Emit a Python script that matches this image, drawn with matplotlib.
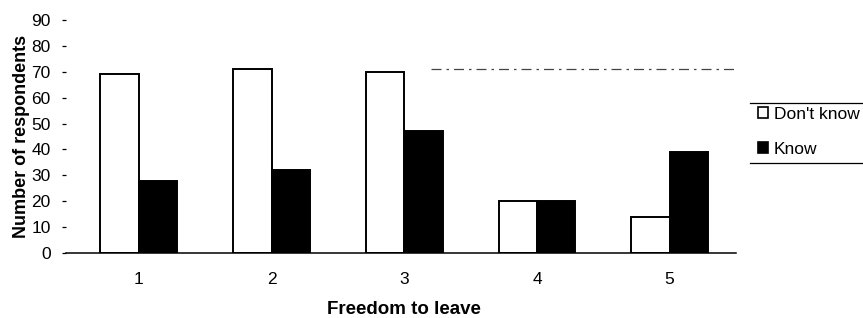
import matplotlib.pyplot as plt
import numpy as np
from matplotlib.patches import Patch
from matplotlib.lines import Line2D

plt.rcParams["font.family"] = ["Liberation Sans", "DejaVu Sans"]

# Данные
categories = ["1", "2", "3", "4", "5"]
dont_know = [69, 71, 70, 20, 14]
know = [28, 32, 47, 20, 39]
y_ticks = [0, 10, 20, 30, 40, 50, 60, 70, 80, 90]

fig = plt.figure(figsize=(8.63, 3.18), dpi=100)
ax = fig.add_axes([66 / 863, 1 - 253 / 318, 670 / 863, 233 / 318])

x = np.arange(1, len(categories) + 1)
w = 0.29
ax.bar(x - w / 2, dont_know, width=w, color="white", edgecolor="black", linewidth=1.4)
ax.bar(x + w / 2, know, width=w, color="black", edgecolor="black", linewidth=1.4)

# слабая пунктирная линия (след скана) на уровне ~71
ax.plot([3.2, 5.5], [71, 71], color="#444444", linestyle=(0, (8, 4, 2, 4)), linewidth=0.9)

ax.set_xlim(0.45, 5.5)
ax.set_ylim(0, 90)
ax.set_xticks(x)
ax.set_xticklabels(categories)
ax.set_yticks(y_ticks)
ax.tick_params(axis="x", length=0, labelsize=12.5, pad=14)
ax.tick_params(axis="y", length=3, direction="out", labelsize=12.5, pad=8, width=0.9)

for side in ["top", "right", "left"]:
    ax.spines[side].set_visible(False)
ax.spines["bottom"].set_linewidth(1.1)

ax.set_ylabel("Number of respondents", fontsize=13, fontweight="bold", labelpad=1)
fig.text(404 / 863, 1 - 309 / 318, "Freedom to leave", fontsize=13.5,
         fontweight="bold", ha="center", va="center")

handles = [
    Patch(facecolor="white", edgecolor="black", linewidth=1.2),
    Patch(facecolor="black", edgecolor="black", linewidth=1.2),
]
fig.legend(
    handles,
    ["Don't know", "Know"],
    loc="upper left",
    bbox_to_anchor=(755 / 863, 1 - 104 / 318),
    bbox_transform=fig.transFigure,
    frameon=False,
    fontsize=12.5,
    handlelength=0.6,
    handleheight=0.6,
    handletextpad=0.35,
    labelspacing=1.15,
    borderaxespad=0,
    borderpad=0.15,
)

# горизонтальные линии сверху и снизу легенды
for yy in [103, 163]:
    fig.add_artist(Line2D([750 / 863, 1.0], [1 - yy / 318, 1 - yy / 318],
                          transform=fig.transFigure, color="black", linewidth=0.9))

fig.savefig("out.png", dpi=100)
